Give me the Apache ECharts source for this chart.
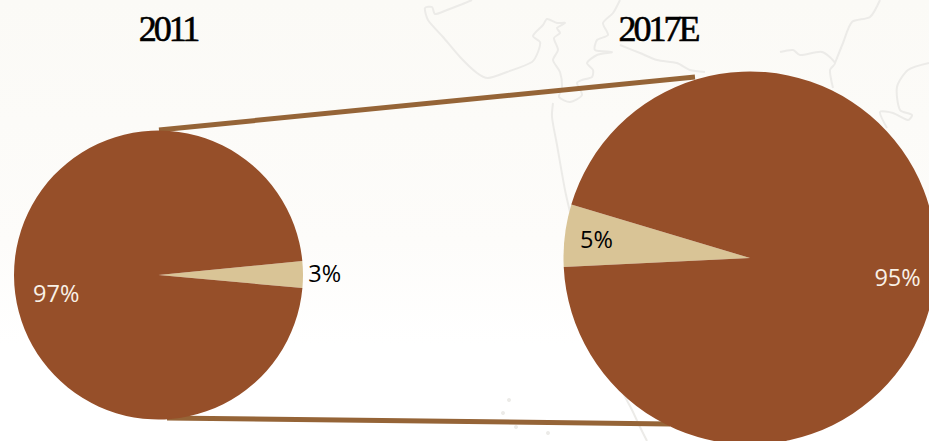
<!DOCTYPE html>
<html>
<head>
<meta charset="utf-8">
<style>
html,body{margin:0;padding:0;background:#fff;overflow:hidden}
#c{width:929px;height:441px}
#c svg text[style*="Liberation Serif"]{letter-spacing:-3px}
</style>
<script src="https://cdn.jsdelivr.net/npm/echarts@6/dist/echarts.min.js"></script>
</head>
<body>
<div id="c"></div>
<script>
const pieTitles = ['2011', '2017E'];
const categories = ['Other', 'Main'];
const values2011 = [3, 97];
const values2017 = [5.4, 94.6];

const BROWN = '#964f29', TAN = '#d9c496', LINE = '#956437', MAP = '#ecebe8';

const mapPaths = [
 [[472,0],[460,5],[447,10],[435,14],[432,7],[425,8],[428,20],[443,37],[460,57],[477,73],[488,78],[507,72],[532,62],[538,52],[540,42],[533,36],[543,25],[547,19],[557,23],[565,23],[557,28],[560,33],[554,38],[558,50],[553,60],[560,72],[562,88],[559,97],[570,102],[582,95],[577,83],[582,80],[592,77],[593,70],[587,63],[597,55],[612,52],[595,50],[597,40],[608,35],[603,23],[613,13],[620,0]],
 [[620,45],[640,53],[657,60],[677,63],[690,70],[705,72]],
 [[780,52],[793,50],[800,55],[822,52],[835,63],[830,70],[833,88]],
 [[880,0],[870,17],[852,22],[843,43],[835,63]],
 [[929,63],[908,70],[897,87],[900,110],[912,115],[908,120],[893,113],[880,112],[887,128]],
 [[553,103],[552,117],[557,145],[565,190],[570,212]],
 [[623,393],[632,410],[640,427],[647,441]]
];
const mapDots = [[509,400],[503,413],[516,427],[548,433]];

const connectors = [
 [[159,130],[695,77]],
 [[167,418],[670,424]]
];

function lineShape(p){ return {x1:p[0][0],y1:p[0][1],x2:p[1][0],y2:p[1][1]}; }

const graphics = [];
mapPaths.forEach(p => graphics.push({
  type:'polyline', silent:true, z:-10,
  shape:{points:p, smooth:0.25}, style:{stroke:MAP, lineWidth:2, fill:null}
}));
mapDots.forEach(d => graphics.push({
  type:'circle', silent:true, z:-10,
  shape:{cx:d[0],cy:d[1],r:2}, style:{fill:MAP}
}));
connectors.forEach(p => graphics.push({
  type:'line', silent:true, z:-1,
  shape:lineShape(p), style:{stroke:LINE, lineWidth:5}
}));

function mkData(vals, labelCfg){
  return vals.map((v,i)=>({
    name:categories[i], value:v,
    itemStyle:{color:i===0?TAN:BROWN},
    label:{
      show:true, position:'inside', offset:labelCfg[i],
      formatter:Math.round(v)+'%',
      color:(i===0?'#000000':'#f9f1e6'),
      fontFamily:'"Open Sans"', fontSize:23.5
    },
    labelLine:{show:false}
  }));
}

const chart = echarts.init(document.getElementById('c'), null, {renderer:'svg'});
const titleStyle = {fontFamily:'"Liberation Serif"',fontSize:36,fontWeight:'normal',color:'#000',textBorderColor:'#000',textBorderWidth:0.6};
chart.setOption({
  animation:false,
  backgroundColor:{type:'linear',x:0,y:0,x2:0,y2:1,colorStops:[
    {offset:0,color:'#fbfaf6'},{offset:0.55,color:'#fdfcfa'},{offset:0.78,color:'#ffffff'},{offset:1,color:'#ffffff'}
  ]},
  title:[
    {text:pieTitles[0], left:163, top:6, textAlign:'center', textStyle:titleStyle},
    {text:pieTitles[1], left:653, top:6, textAlign:'center', textStyle:titleStyle}
  ],
  graphic:graphics,
  series:[
    {type:'pie', center:[158.5,275], radius:[0,144.5], startAngle:5.6, clockwise:true,
     avoidLabelOverlap:false, silent:true, z:2,
     data:mkData(values2011, [[91,-2],[-27,18]])},
    {type:'pie', center:[750,258], radius:[0,186.5], startAngle:182.8, clockwise:true,
     avoidLabelOverlap:false, silent:true, z:2,
     data:mkData(values2017, [[-58,-7],[52,7]])}
  ]
});
</script>
</body>
</html>
